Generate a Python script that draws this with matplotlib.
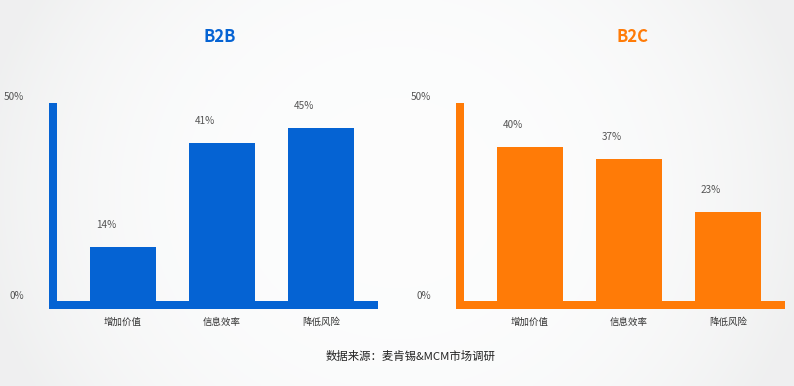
import matplotlib
matplotlib.use("Agg")
import matplotlib.pyplot as plt
import numpy as np

plt.rcParams['font.family'] = ['Noto Sans CJK SC', 'DejaVu Sans']

categories = ["增加价值", "信息效率", "降低风险"]
b2b_values = [14, 41, 45]
b2c_values = [40, 37, 23]
panel_titles = ["B2B", "B2C"]
ytick_values = [0, 50]
ytick_labels = ["0%", "50%"]
source_text = "数据来源：麦肯锡&MCM市场调研"

BLUE = "#0563d3"
ORANGE = "#ff7b07"
W, H = 794, 386

fig = plt.figure(figsize=(W / 100, H / 100), dpi=100)

# background: soft gradient
gx = np.linspace(-1, 1, 400)
gy = np.linspace(-1, 1, 200)
GX, GY = np.meshgrid(gx, gy)
r = np.clip(np.sqrt((GX * 0.95) ** 2 + (GY * 0.5) ** 2), 0, 1)
bgval = 0.992 - 0.05 * r ** 3
bg_ax = fig.add_axes([0, 0, 1, 1])
bg_ax.imshow(np.dstack([bgval - 0.003, bgval - 0.001, bgval]), aspect='auto',
             extent=[0, 1, 0, 1], interpolation='bilinear')
bg_ax.axis('off')


def px_axes(x0, x1, y0, y1):
    return fig.add_axes([x0 / W, 1 - y1 / H, (x1 - x0) / W, (y1 - y0) / H])


XMIN, XMAX = -0.747, 2.575
YMIN, YMAX = -2.16, 51.4
pt = 0.72  # px -> points

for k, (vals, color, title, left_px, title_x) in enumerate(
        [(b2b_values, BLUE, panel_titles[0], 48.7, 219.3),
         (b2c_values, ORANGE, panel_titles[1], 455.7, 633.0)]):
    ax = px_axes(left_px, left_px + 329.5, 103.3, 309)
    ax.patch.set_alpha(0)
    ax.set_xlim(XMIN, XMAX)
    ax.set_ylim(YMIN, YMAX)
    for s in ax.spines.values():
        s.set_visible(False)
    x = np.arange(len(categories))
    ax.bar(x, vals, width=0.66, color=color, zorder=3)
    # axis decorations
    ax.axvspan(XMIN, XMIN + 0.0806, color=color, lw=0, zorder=2)
    ax.axhspan(YMIN, 0, color=color, lw=0, zorder=2)
    ax.set_xticks(x, categories)
    ax.tick_params(axis='x', length=0, pad=6, labelsize=6.8, labelcolor='#333333')
    ax.set_yticks([])
    # value labels
    for xi, v in zip(x, vals):
        ax.annotate(f"{v}%", xy=(xi, v), xytext=(-17 * pt, 22 * pt),
                    textcoords='offset points', ha='center', va='center',
                    fontsize=7.2, color='#555555')
    # y tick labels
    for yv, yl, dy in zip(ytick_values, ytick_labels, [4.7, 11.7]):
        ax.annotate(yl, xy=(0, yv), xycoords=ax.get_yaxis_transform(),
                    xytext=(-24.5 * pt, dy * pt), textcoords='offset points',
                    ha='right', va='center', fontsize=7.2, color='#555555')
    fig.text(title_x / W, 1 - 36.7 / H, title, ha='center', va='center',
             fontsize=12, fontweight='bold', color=color)

fig.text(410.8 / W, 1 - 356.7 / H, source_text, ha='center', va='center',
         fontsize=8.2, color='#222222')

fig.savefig("out.png", dpi=100)
